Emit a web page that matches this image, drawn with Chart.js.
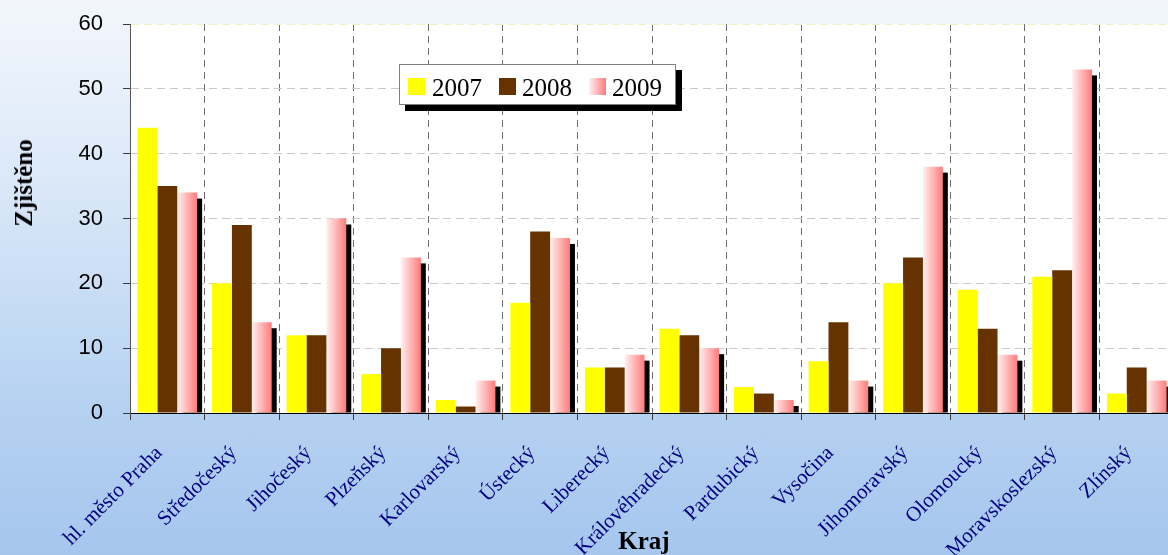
<!DOCTYPE html>
<html>
<head>
<meta charset="utf-8">
<script src="https://cdn.jsdelivr.net/npm/chart.js@4/dist/chart.umd.min.js"></script>
<style>
  html, body { margin: 0; padding: 0; overflow: hidden; }
  #wrap {
    position: relative; width: 1168px; height: 555px; overflow: hidden;
    background: linear-gradient(to bottom, #f3f7fc 0%, #dae8f8 33%, #b5d1f1 74%, #a6c6ee 100%);
  }
  #chart { position: absolute; left: 0; top: 0; }
  #ytitle {
    position: absolute; left: 24px; top: 183px; line-height: 1; white-space: nowrap;
    font: bold 25px "Liberation Serif", "Times New Roman", serif; color: #000;
    transform: translate(-50%, -50%) rotate(-90deg);
  }
  #xtitle {
    position: absolute; left: 644px; top: 541px; line-height: 1; white-space: nowrap;
    font: bold 25px "Liberation Serif", "Times New Roman", serif; color: #000;
    transform: translate(-50%, -50%);
  }
  #legend {
    position: absolute; left: 399px; top: 64px; width: 277px; height: 41px;
    box-sizing: border-box; border: 1px solid #7f7f7f; background: #fff;
    box-shadow: 6px 6px 0 #000;
    font: 25px "Liberation Serif", "Times New Roman", serif; color: #000;
  }
  #legend .sw { position: absolute; top: 13px; width: 17px; height: 17px; }
  #legend .txt { position: absolute; top: 10px; line-height: 1; }
</style>
</head>
<body>
<div id="wrap">
  <canvas id="chart" width="1180" height="555"></canvas>
  <div id="ytitle">Zjištěno</div>
  <div id="xtitle">Kraj</div>
  <div id="legend"></div>
</div>
<script>
// ─── DATA ───
const categories = ['hl. město Praha', 'Středočeský', 'Jihočeský', 'Plzeňský', 'Karlovarský', 'Ústecký',
  'Liberecký', 'Královéhradecký', 'Pardubický', 'Vysočina', 'Jihomoravský', 'Olomoucký',
  'Moravskoslezský', 'Zlínský'];
const seriesNames = ['2007', '2008', '2009'];
const values2007 = [44, 20, 12, 6, 2, 17, 7, 13, 4, 8, 20, 19, 21, 3];
const values2008 = [35, 29, 12, 10, 1, 28, 7, 12, 3, 14, 24, 13, 22, 7];
const values2009 = [34, 14, 30, 24, 5, 27, 9, 10, 2, 5, 38, 9, 53, 5];
const yTicks = [0, 10, 20, 30, 40, 50, 60];

const YELLOW = '#ffff00';
const BROWN = '#663300';
const PINK_LIGHT = '#fff0f0';
const PINK_DARK = '#ff7b7b';

// white plot area
const plotBackground = {
  id: 'plotBackground',
  beforeDraw(chart) {
    const { ctx, chartArea: a } = chart;
    ctx.save();
    ctx.fillStyle = '#fff';
    ctx.fillRect(a.left, a.top, a.right - a.left, a.bottom - a.top);
    ctx.restore();
  }
};

// 2009 series: black drop shadow + horizontal gradient per bar
const pinkBars = {
  id: 'pinkBars',
  beforeDatasetDraw(chart, args) {
    if (args.index !== 2) return;
    const { ctx, chartArea: a } = chart;
    ctx.save();
    ctx.beginPath();
    ctx.rect(a.left, a.top, a.right - a.left, a.bottom - a.top);
    ctx.clip();
    ctx.fillStyle = '#000';
    args.meta.data.forEach(bar => {
      const { x, y, width, base } = bar.getProps(['x', 'y', 'width', 'base'], true);
      const left = x - width / 2;
      ctx.fillRect(left + 5, y + 6, width, base - y - 6);
      const g = ctx.createLinearGradient(left, 0, left + width, 0);
      g.addColorStop(0, PINK_LIGHT);
      g.addColorStop(1, PINK_DARK);
      bar.options.backgroundColor = g;
    });
    ctx.restore();
  }
};

new Chart(document.getElementById('chart'), {
  type: 'bar',
  data: {
    labels: categories,
    datasets: [
      { label: seriesNames[0], data: values2007, backgroundColor: YELLOW },
      { label: seriesNames[1], data: values2008, backgroundColor: BROWN },
      { label: seriesNames[2], data: values2009, backgroundColor: () => PINK_DARK }
    ]
  },
  options: {
    responsive: false,
    animation: false,
    devicePixelRatio: 1,
    layout: { padding: { top: 24, right: 6, left: 0, bottom: 0 } },
    datasets: { bar: { categoryPercentage: 0.8, barPercentage: 1, borderWidth: 0 } },
    plugins: { legend: { display: false }, tooltip: { enabled: false } },
    scales: {
      x: {
        afterFit: s => { s.height = 142; },
        grid: {
          color: c => (c.index === 0 ? 'rgba(0,0,0,0)' : '#6e6e6e'),
          lineWidth: 1, tickLength: 7, tickColor: '#3a3a3a'
        },
        border: { color: '#000', width: 1, dash: [7, 5] },
        ticks: {
          color: '#000080',
          font: { family: '"Liberation Serif", "Times New Roman", serif', size: 21 },
          maxRotation: 45, minRotation: 45, autoSkip: false,
          padding: 21, labelOffset: -8
        }
      },
      y: {
        min: 0, max: 60,
        afterFit: s => { s.width = 130; s.paddingTop = 0; s.paddingBottom = 0; },
        afterBuildTicks: s => { s.ticks = yTicks.map(v => ({ value: v })); },
        grid: {
          color: c => (c.tick && c.tick.value === 60 ? '#f4efbf' : '#c8c8c8'),
          lineWidth: 1, tickLength: 7, tickColor: '#3a3a3a'
        },
        border: { color: '#555', width: 1, dash: [8, 5] },
        ticks: {
          color: '#000',
          font: { family: '"Liberation Sans", Arial, sans-serif', size: 22 },
          padding: 20
        }
      }
    }
  },
  plugins: [plotBackground, pinkBars]
});

// ─── LEGEND ───
const legend = document.getElementById('legend');
const swatchFills = [YELLOW, BROWN, `linear-gradient(to right, ${PINK_LIGHT}, ${PINK_DARK})`];
seriesNames.forEach((name, i) => {
  const sw = document.createElement('span');
  sw.className = 'sw';
  sw.style.left = (8 + i * 90.5) + 'px';
  sw.style.background = swatchFills[i];
  const txt = document.createElement('span');
  txt.className = 'txt';
  txt.style.left = (32 + i * 90) + 'px';
  txt.textContent = name;
  legend.appendChild(sw);
  legend.appendChild(txt);
});
</script>
</body>
</html>
